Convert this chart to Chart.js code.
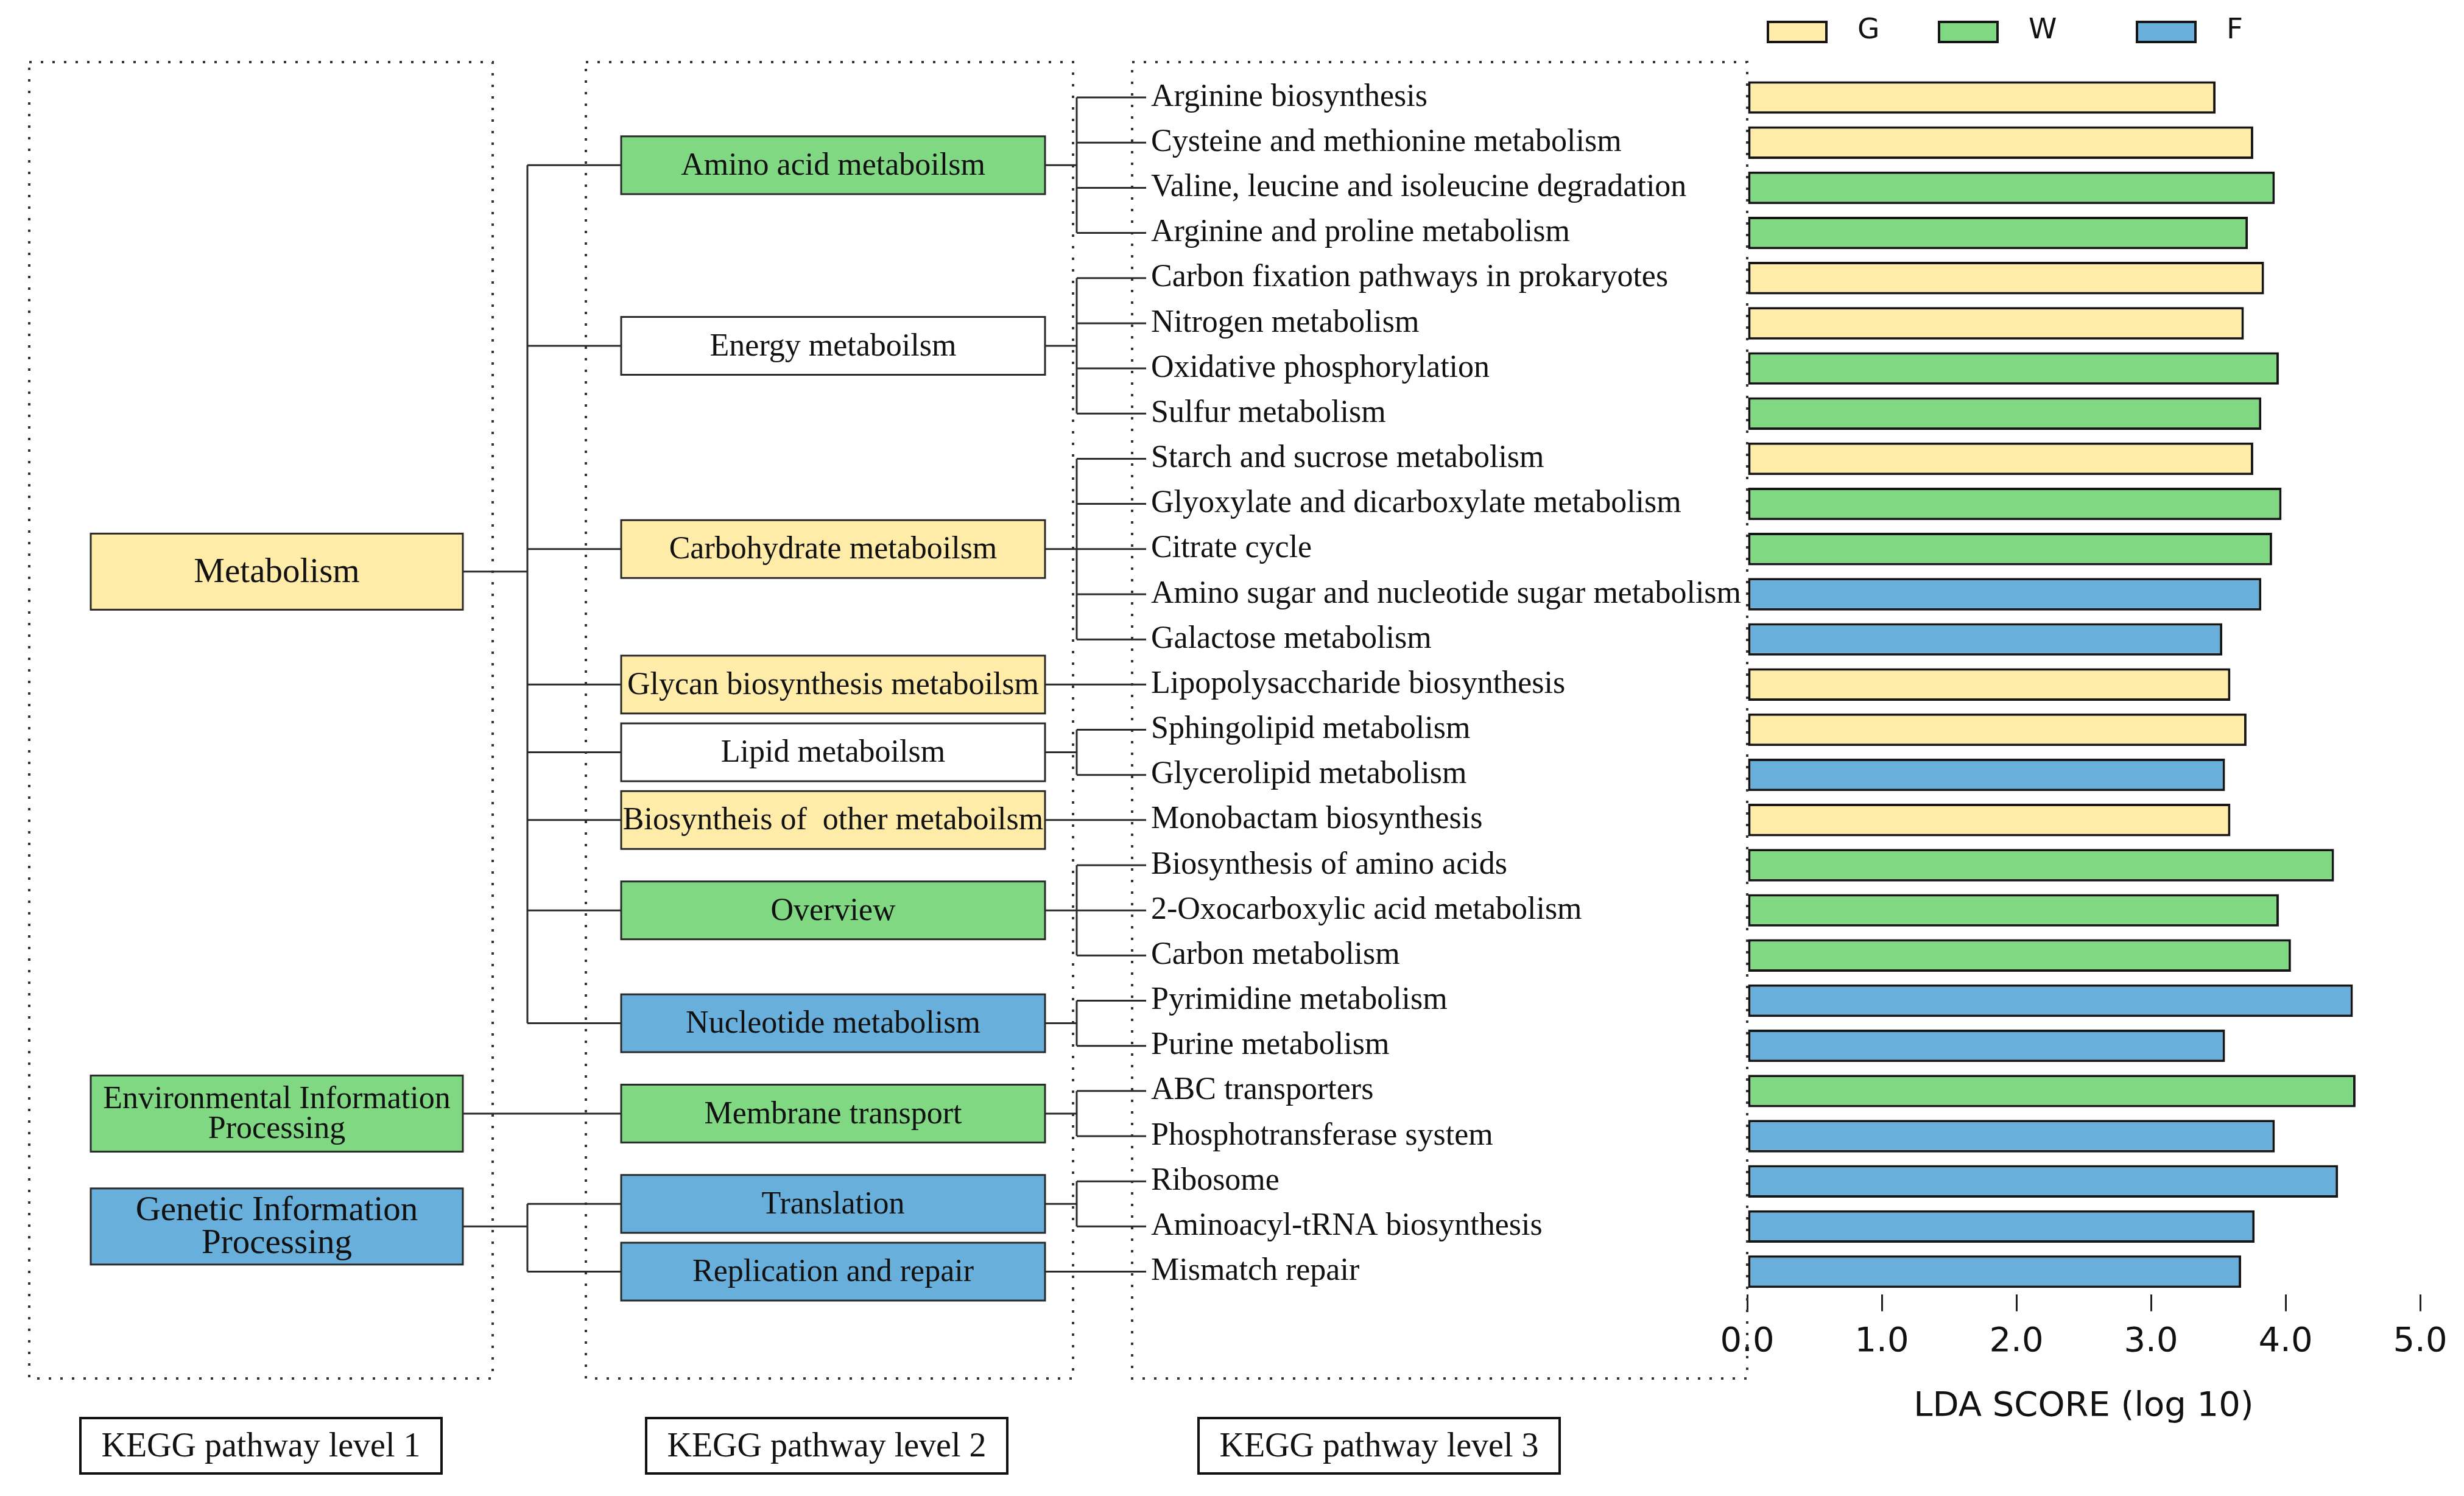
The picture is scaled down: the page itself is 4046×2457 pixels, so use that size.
<!DOCTYPE html>
<html>
<head>
<meta charset="utf-8">
<title>KEGG pathway LDA</title>
<script src="https://cdn.jsdelivr.net/npm/chart.js@4.4.1/dist/chart.umd.min.js"></script>
<style>
  html, body { margin: 0; padding: 0; background: #fff; }
  #wrap { width: 4046px; height: 2457px; position: relative; }
</style>
</head>
<body>
<div id="wrap"><canvas id="ldaChart"></canvas></div>
<script>
// ---- data ----

// KEGG level 3 pathways, top to bottom
var pathways = [
    'Arginine biosynthesis',
    'Cysteine and methionine metabolism',
    'Valine, leucine and isoleucine degradation',
    'Arginine and proline metabolism',
    'Carbon fixation pathways in prokaryotes',
    'Nitrogen metabolism',
    'Oxidative phosphorylation',
    'Sulfur metabolism',
    'Starch and sucrose metabolism',
    'Glyoxylate and dicarboxylate metabolism',
    'Citrate cycle',
    'Amino sugar and nucleotide sugar metabolism',
    'Galactose metabolism',
    'Lipopolysaccharide biosynthesis',
    'Sphingolipid metabolism',
    'Glycerolipid metabolism',
    'Monobactam biosynthesis',
    'Biosynthesis of amino acids',
    '2-Oxocarboxylic acid metabolism',
    'Carbon metabolism',
    'Pyrimidine metabolism',
    'Purine metabolism',
    'ABC transporters',
    'Phosphotransferase system',
    'Ribosome',
    'Aminoacyl-tRNA biosynthesis',
    'Mismatch repair'
];

// LDA score (log 10) of each pathway
var ldaScores = [3.48, 3.76, 3.92, 3.72, 3.84, 3.69, 3.95, 3.82, 3.76, 3.97,
                 3.90, 3.82, 3.53, 3.59, 3.71, 3.55, 3.59, 4.36, 3.95, 4.04,
                 4.50, 3.55, 4.52, 3.92, 4.39, 3.77, 3.67];

// group in which each pathway is enriched
var enrichedIn = ['G', 'G', 'W', 'W', 'G', 'G', 'W', 'W', 'G', 'W',
                  'W', 'F', 'F', 'G', 'G', 'F', 'G', 'W', 'W', 'W',
                  'F', 'F', 'W', 'F', 'F', 'F', 'F'];

var groupNames = ['G', 'W', 'F'];

// KEGG level 2 (number of level 3 children each)
var level2Names = ['Amino acid metaboilsm', 'Energy metaboilsm', 'Carbohydrate metaboilsm',
                   'Glycan biosynthesis metaboilsm', 'Lipid metaboilsm',
                   'Biosyntheis of  other metaboilsm', 'Overview', 'Nucleotide metabolism',
                   'Membrane transport', 'Translation', 'Replication and repair'];
var level2Counts = [4, 4, 5, 1, 2, 1, 3, 2, 2, 2, 1];
var level2Group = ['W', '', 'G', 'G', '', 'G', 'W', 'F', 'W', 'F', 'F'];

// KEGG level 1 (number of level 2 children each)
var level1Names = [['Metabolism'], ['Environmental Information', 'Processing'], ['Genetic Information', 'Processing']];
var level1Counts = [8, 1, 2];
var level1Group = ['G', 'W', 'F'];

var levelCaptions = ['KEGG pathway level 1', 'KEGG pathway level 2', 'KEGG pathway level 3'];

var xTicks = [0, 1, 2, 3, 4, 5];

// ---- styles ----

var groupColors = { G: '#FFECA9', W: '#80D883', F: '#68B0DB', '': '#FFFFFF' };
var SERIF = '"Liberation Serif", "Times New Roman", serif';
var SANS = '"DejaVu Sans", sans-serif';

var L1 = { left: 149, right: 760, h: 125, fonts: [57, 52, 57] };
var L2 = { left: 1020, right: 1716, h: 95, font: 52 };
var TRUNK_X = 866;
var BRACKET_X = 1768;
var BRANCH_END = 1882;
var LINE_COLOR = '#2a2a2a';

// dotted frames [x1, y1, x2, y2]
var frames = [[48, 102, 809, 2264], [962, 102, 1762, 2264], [1859, 102, 2869, 2264]];
var captionX = [132, 1061, 1968];
var legendX = [2903, 3184, 3509];


function hline(ctx, x1, x2, y) {
    ctx.beginPath();
    ctx.moveTo(x1, y);
    ctx.lineTo(x2, y);
    ctx.stroke();
}

function vline(ctx, x, y1, y2) {
    ctx.beginPath();
    ctx.moveTo(x, y1);
    ctx.lineTo(x, y2);
    ctx.stroke();
}

function mean(arr) {
    var s = 0;
    for (var i = 0; i < arr.length; i++) s += arr[i];
    return s / arr.length;
}

// filled box with centered text lines
function drawBox(ctx, x1, x2, cy, h, fill, lines, size) {
    ctx.fillStyle = fill;
    ctx.fillRect(x1, cy - h / 2, x2 - x1, h);
    ctx.lineWidth = 3;
    ctx.strokeStyle = LINE_COLOR;
    ctx.strokeRect(x1, cy - h / 2, x2 - x1, h);

    ctx.fillStyle = '#111';
    ctx.font = size + 'px ' + SERIF;
    ctx.textAlign = 'center';
    ctx.textBaseline = 'middle';
    var lh = size * 0.95;
    var y0 = cy - (lines.length - 1) * lh / 2;
    for (var k = 0; k < lines.length; k++) {
        ctx.fillText(lines[k], (x1 + x2) / 2, y0 + k * lh + 2);
    }
}

// dotted frames go under the bars
var framePlugin = {
    id: 'frames',
    beforeDatasetsDraw: function (chart) {
        var ctx = chart.ctx;
        ctx.save();
        ctx.setLineDash([4, 15]);
        ctx.lineWidth = 4;
        ctx.strokeStyle = '#333';
        frames.forEach(function (f) {
            ctx.strokeRect(f[0], f[1], f[2] - f[0], f[3] - f[1]);
        });
        ctx.restore();
    }
};

// level 1 / level 2 tree, captions and legend
var treePlugin = {
    id: 'keggTree',
    afterDraw: function (chart) {
        var ctx = chart.ctx;
        var yScale = chart.scales.y;
        var rows = pathways.map(function (p, i) { return yScale.getPixelForValue(i); });

        ctx.save();
        ctx.strokeStyle = LINE_COLOR;
        ctx.lineWidth = 3;

        // level 2 boxes and their brackets
        var l2Center = [];
        var l2Rows = [];
        var start = 0;
        for (var j = 0; j < level2Names.length; j++) {
            var ys = rows.slice(start, start + level2Counts[j]);
            var cy = mean(ys);
            l2Center.push(cy);
            l2Rows.push(ys);
            ctx.strokeStyle = LINE_COLOR;
            ctx.lineWidth = 3;
            if (ys.length > 1) {
                hline(ctx, L2.right, BRACKET_X, cy);
                vline(ctx, BRACKET_X, ys[0], ys[ys.length - 1]);
                ys.forEach(function (y) { hline(ctx, BRACKET_X, BRANCH_END, y); });
            } else {
                hline(ctx, L2.right, BRANCH_END, cy);
            }
            drawBox(ctx, L2.left, L2.right, cy, L2.h, groupColors[level2Group[j]], [level2Names[j]], L2.font);
            start += level2Counts[j];
        }

        // level 1 boxes and trunk lines
        var s2 = 0;
        for (var m = 0; m < level1Names.length; m++) {
            var kids = l2Center.slice(s2, s2 + level1Counts[m]);
            var kidRows = [].concat.apply([], l2Rows.slice(s2, s2 + level1Counts[m]));
            var c1 = mean(kidRows);
            ctx.strokeStyle = LINE_COLOR;
            ctx.lineWidth = 3;
            if (kids.length > 1) {
                hline(ctx, L1.right, TRUNK_X, c1);
                vline(ctx, TRUNK_X, kids[0], kids[kids.length - 1]);
                kids.forEach(function (y) { hline(ctx, TRUNK_X, L2.left, y); });
            } else {
                c1 = kids[0];
                hline(ctx, L1.right, L2.left, c1);
            }
            drawBox(ctx, L1.left, L1.right, c1, L1.h, groupColors[level1Group[m]], level1Names[m], L1.fonts[m]);
            s2 += level1Counts[m];
        }

        // captions under each level
        levelCaptions.forEach(function (t, i) {
            ctx.fillStyle = '#fff';
            ctx.fillRect(captionX[i], 2329, 593, 91);
            ctx.lineWidth = 4;
            ctx.strokeStyle = '#111';
            ctx.strokeRect(captionX[i], 2329, 593, 91);
            ctx.fillStyle = '#111';
            ctx.font = '56px ' + SERIF;
            ctx.textAlign = 'center';
            ctx.textBaseline = 'middle';
            ctx.fillText(t, captionX[i] + 593 / 2, 2377);
        });

        // legend
        chart.data.datasets.forEach(function (ds, i) {
            ctx.fillStyle = ds.backgroundColor;
            ctx.fillRect(legendX[i], 36, 96, 33);
            ctx.lineWidth = 4;
            ctx.strokeStyle = '#161616';
            ctx.strokeRect(legendX[i], 36, 96, 33);
            ctx.fillStyle = '#111';
            ctx.font = '47px ' + SANS;
            ctx.textAlign = 'left';
            ctx.textBaseline = 'middle';
            ctx.fillText(ds.label, legendX[i] + 147, 51);
        });

        ctx.restore();
    }
};

function buildDatasets() {
    return groupNames.map(function (g) {
        return {
            label: g,
            data: ldaScores.map(function (v, i) { return enrichedIn[i] === g ? v : null; }),
            backgroundColor: groupColors[g],
            borderColor: '#161616',
            borderWidth: 4,
            borderSkipped: false,
            grouped: false,
            barPercentage: 0.72,
            categoryPercentage: 1
        };
    });
}

var ctx = document.getElementById('ldaChart').getContext('2d');
var ldaChart = new Chart(ctx, {
    type: 'bar',
    data: { labels: pathways, datasets: buildDatasets() },
    options: {
        indexAxis: 'y',
        responsive: true,
        maintainAspectRatio: false,
        devicePixelRatio: 1,
        animation: false,
        layout: { padding: { left: 1890, right: 72, top: 123, bottom: 113 } },
        plugins: {
            legend: { display: false },
            tooltip: { enabled: false }
        },
        scales: {
            x: {
                type: 'linear',
                min: 0,
                max: 5,
                afterBuildTicks: function (scale) {
                    scale.ticks = xTicks.map(function (v) { return { value: v }; });
                },
                grid: {
                    drawOnChartArea: false,
                    drawTicks: true,
                    tickLength: 28,
                    color: '#222',
                    lineWidth: 3
                },
                border: { display: false },
                ticks: {
                    maxRotation: 0,
                    padding: 17,
                    color: '#111',
                    font: { family: SANS, size: 56 },
                    callback: function (v) { return Number(v).toFixed(1); }
                },
                title: {
                    display: true,
                    text: 'LDA SCORE (log 10)',
                    color: '#111',
                    font: { family: SANS, size: 56 },
                    padding: { top: 22, bottom: 0 }
                }
            },
            y: {
                type: 'category',
                offset: true,
                grid: { display: false },
                border: { display: false },
                afterFit: function (scale) { scale.width = 979; },
                ticks: {
                    autoSkip: false,
                    crossAlign: 'far',
                    padding: 0,
                    color: '#111',
                    font: { family: SERIF, size: 52 }
                }
            }
        }
    },
    plugins: [framePlugin, treePlugin]
});
</script>
</body>
</html>
